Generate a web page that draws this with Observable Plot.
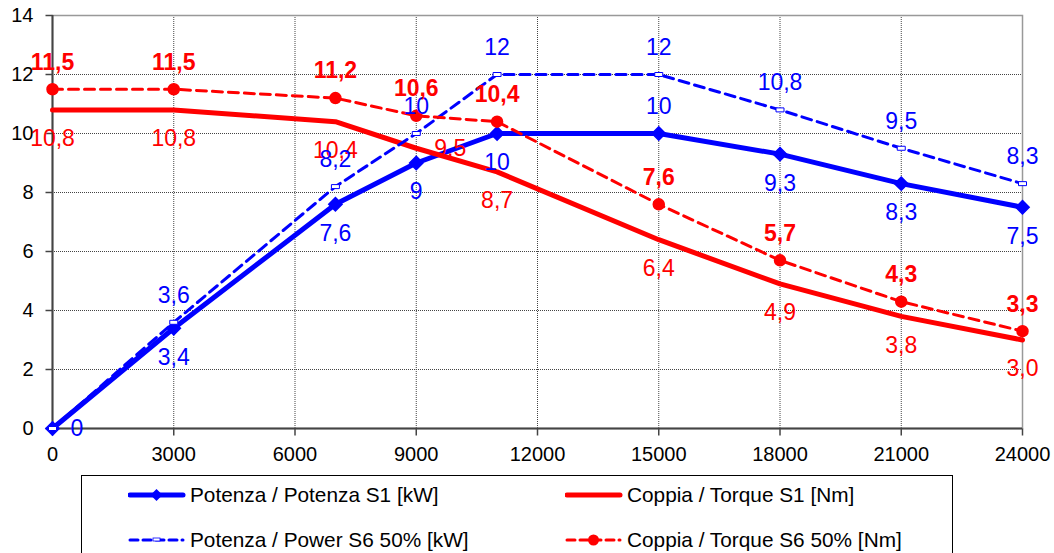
<!DOCTYPE html>
<html>
<head>
<meta charset="utf-8">
<script src="https://cdn.jsdelivr.net/npm/d3@7"></script>
<script src="https://cdn.jsdelivr.net/npm/@observablehq/plot@0.6"></script>
<style>
  body { margin: 0; background: #fff; font-family: "Liberation Sans", Arial, sans-serif; }
  #wrap { position: relative; width: 1054px; height: 553px; overflow: hidden; }
  #legend { position: absolute; left: 81px; top: 475px; width: 872px; height: 120px; border: 1px solid #000; box-sizing: border-box; }
  .item { position: absolute; display: flex; align-items: center; height: 26px; line-height: 26px; font-size: 20.8px; color: #000; white-space: nowrap; }
  .item svg { margin-right: 4px; }
</style>
</head>
<body>
<div id="wrap"><div id="chart"></div><div id="legend"></div></div>
<script>
const speed = [0, 3000, 7000, 9000, 11000, 15000, 18000, 21000, 24000];
const powerS1 = [0, 3.4, 7.6, 9, 10, 10, 9.3, 8.3, 7.5];
const torqueS1 = [10.8, 10.8, 10.4, 9.5, 8.7, 6.4, 4.9, 3.8, 3.0];
const powerS6 = [0, 3.6, 8.2, 10, 12, 12, 10.8, 9.5, 8.3];
const torqueS6 = [11.5, 11.5, 11.2, 10.6, 10.4, 7.6, 5.7, 4.3, 3.3];
const xTicks = [0, 3000, 6000, 9000, 12000, 15000, 18000, 21000, 24000];
const yTicks = [0, 2, 4, 6, 8, 10, 12, 14];
const seriesNames = ["Potenza / Potenza S1 [kW]", "Coppia / Torque S1 [Nm]", "Potenza / Power S6 50% [kW]", "Coppia / Torque S6 50% [Nm]"];

// label placement per point (layout, not data)
const posPowerS1 = ["right", "below", "below", "below", "below", "above", "below", "below", "below"];
const posTorqueS1 = ["below", "below", "below", "right", "below", "below", "below", "below", "below"];
const posPowerS6 = ["none", "above", "above", "above", "above", "above", "above", "above", "above"];
const posTorqueS6 = ["above", "above", "above", "above", "above", "above", "above", "above", "above"];

const BLUE = "#0000FF", RED = "#FF0000";
const rows = (vals, pos, fmt) => speed.map((x, i) => ({x, y: vals[i], pos: pos[i], label: fmt(vals[i])}));
const comma = v => String(v).replace(".", ",");
const comma1 = v => v.toFixed(1).replace(".", ",");

const dP1 = rows(powerS1, posPowerS1, comma);
const dT1 = rows(torqueS1, posTorqueS1, comma1);
const dP6 = rows(powerS6, posPowerS6, comma);
const dT6 = rows(torqueS6, posTorqueS6, comma);

function labelMarks(data, color, weight) {
  const common = {x: "x", y: "y", text: "label", fill: color, fontSize: 23, fontWeight: weight};
  return [
    Plot.text(data.filter(d => d.pos === "above"), {...common, dy: -27}),
    Plot.text(data.filter(d => d.pos === "below"), {...common, dy: 29}),
    Plot.text(data.filter(d => d.pos === "right"), {...common, dx: 18, textAnchor: "start"})
  ];
}

const rectSymbol = {
  draw(ctx) {
    const w = 4, h = 2;
    ctx.moveTo(-w, -h); ctx.lineTo(w, -h); ctx.lineTo(w, h); ctx.lineTo(-w, h); ctx.closePath();
  }
};
const tickDown = {draw(ctx) { ctx.moveTo(0, 0); ctx.lineTo(0, 7); }};
const tickLeft = {draw(ctx) { ctx.moveTo(0, 0); ctx.lineTo(-7, 0); }};

const chart = Plot.plot({
  width: 1054,
  height: 470,
  marginLeft: 52,
  marginRight: 32,
  marginTop: 15,
  marginBottom: 42,
  style: {fontFamily: "'Liberation Sans', Arial, sans-serif", color: "#000", background: "#fff"},
  x: {domain: [0, 24000], axis: null},
  y: {domain: [0, 14], axis: null},
  marks: [
    Plot.ruleX(xTicks.slice(1, -1), {stroke: "#444", strokeWidth: 1, strokeDasharray: "1,1"}),
    Plot.ruleY(yTicks.slice(1, -1), {stroke: "#444", strokeWidth: 1, strokeDasharray: "1,1"}),
    Plot.frame({stroke: "#999", strokeWidth: 1.5}),
    Plot.ruleX([0], {stroke: "#444", strokeWidth: 2}),
    Plot.ruleY([0], {stroke: "#444", strokeWidth: 2}),
    // axes: ticks and labels
    Plot.dot(xTicks, {x: d => d, frameAnchor: "bottom", symbol: tickDown, stroke: "#444", strokeWidth: 1.5, r: 4}),
    Plot.dot(yTicks, {y: d => d, frameAnchor: "left", symbol: tickLeft, stroke: "#444", strokeWidth: 1.5, r: 4}),
    Plot.text(xTicks, {x: d => d, frameAnchor: "bottom", text: d => String(d), lineAnchor: "top", dy: 18, fontSize: 20, fill: "#000"}),
    Plot.text(yTicks, {y: d => d, frameAnchor: "left", text: d => String(d), textAnchor: "end", dx: -19, fontSize: 20, fill: "#000"}),
    // series
    Plot.line(dP1, {x: "x", y: "y", stroke: BLUE, strokeWidth: 5}),
    Plot.line(dT1, {x: "x", y: "y", stroke: RED, strokeWidth: 5}),
    Plot.line(dP6, {x: "x", y: "y", stroke: BLUE, strokeWidth: 3, strokeDasharray: "10,6"}),
    Plot.line(dT6, {x: "x", y: "y", stroke: RED, strokeWidth: 3, strokeDasharray: "10,6"}),
    Plot.dot(dP1, {x: "x", y: "y", symbol: "diamond2", r: 6, fill: BLUE, stroke: BLUE}),
    Plot.dot(dP6, {x: "x", y: "y", symbol: rectSymbol, r: 4, fill: "#fff", stroke: BLUE, strokeWidth: 1}),
    Plot.dot(dT6, {x: "x", y: "y", r: 5.5, fill: RED, stroke: RED}),
    ...labelMarks(dP1, BLUE, "normal"),
    ...labelMarks(dT1, RED, "normal"),
    ...labelMarks(dP6, BLUE, "normal"),
    ...labelMarks(dT6, RED, "bold")
  ]
});
document.getElementById("chart").appendChild(chart);

// Legend
const samples = [
  `<line x1="2" y1="9" x2="55" y2="9" stroke="${BLUE}" stroke-width="5" stroke-linecap="round"/><path d="M28.5,3 L34.5,9 L28.5,15 L22.5,9Z" fill="${BLUE}"/>`,
  `<line x1="2" y1="9" x2="55" y2="9" stroke="${RED}" stroke-width="5" stroke-linecap="round"/>`,
  `<line x1="2" y1="9" x2="55" y2="9" stroke="${BLUE}" stroke-width="3" stroke-dasharray="8,5" stroke-linecap="round"/><rect x="25" y="7" width="7" height="3" fill="#fff" stroke="${BLUE}" stroke-width="0.8"/>`,
  `<line x1="2" y1="9" x2="55" y2="9" stroke="${RED}" stroke-width="3" stroke-dasharray="8,5" stroke-linecap="round"/><circle cx="28.5" cy="9" r="5.5" fill="${RED}"/>`
];
const pos = [[46, 6], [483, 6], [46, 51], [483, 51]];
const legend = document.getElementById("legend");
seriesNames.forEach((name, i) => {
  const div = document.createElement("div");
  div.className = "item";
  div.style.left = pos[i][0] + "px";
  div.style.top = pos[i][1] + "px";
  div.innerHTML = `<svg width="58" height="18">${samples[i]}</svg><span>${name}</span>`;
  legend.appendChild(div);
});
</script>
</body>
</html>
